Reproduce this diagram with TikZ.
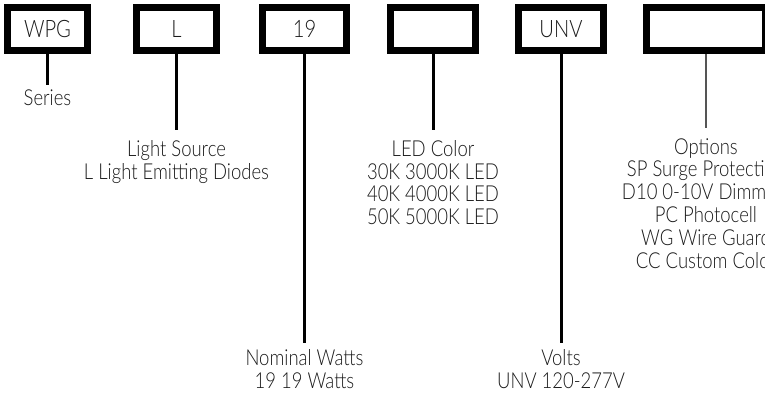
\documentclass[tikz,border=0pt]{standalone}
\usepackage{fontspec}
\setmainfont{Lato}[UprightFont=* Light, FakeStretch=0.84]
\definecolor{txt}{HTML}{1A1A1A}
\definecolor{lightline}{HTML}{555555}
\begin{document}
\begin{tikzpicture}[x=1pt,y=-1pt,
  codebox/.style={draw=black, line width=7pt, inner sep=0pt, text=txt,
    font=\fontsize{24}{26}\selectfont},
  desc/.style={anchor=north, align=center, inner xsep=0pt, inner ysep=5pt, text=txt,
    font=\fontsize{22}{22.8}\selectfont},
  lowgap/.style={inner ysep=10pt},
  conn/.style={draw=black, line width=3pt},
  thinconn/.style={draw=lightline, line width=2pt}]
\useasboundingbox (0,0) rectangle (765,400);
\clip (0,0) rectangle (765,400);
% boxes
\node[codebox, minimum width=80pt, minimum height=43pt] (b1) at (47.5,29) {WPG};
\node[codebox, minimum width=80pt, minimum height=43pt] (b2) at (176.5,29) {L};
\node[codebox, minimum width=84pt, minimum height=43pt] (b3) at (304.5,29) {19};
\node[codebox, minimum width=85pt, minimum height=43pt] (b4) at (433,29) {};
\node[codebox, minimum width=85pt, minimum height=43pt] (b5) at (561,29) {UNV};
\node[codebox, minimum width=119pt, minimum height=43pt] (b6) at (706,29) {};
% descriptions
\node[desc] (t1) at (47.5,85) {Series};
\node[desc, lowgap] (t2) at (176.5,130) {Light Source\\L Light Emitting Diodes};
\node[desc, inner ysep=6pt] (t3) at (304.5,343) {Nominal Watts\\19 19 Watts};
\node[desc, lowgap] (t4) at (433,130) {LED Color\\30K 3000K LED\\40K 4000K LED\\50K 5000K LED};
\node[desc, inner ysep=6pt] (t5) at (561,343) {Volts\\UNV 120-277V};
\node[desc, lowgap] (t6) at (706,128) {Options\\SP Surge Protection\\D10 0-10V Dimming\\PC Photocell\\WG Wire Guard\\CC Custom Color};
% connectors
\draw[conn] (b1.south) -- (t1.north);
\draw[conn] (b2.south) -- (t2.north);
\draw[conn] (b3.south) -- (t3.north);
\draw[conn] (b4.south) -- (t4.north);
\draw[conn] (b5.south) -- (t5.north);
\draw[thinconn] (b6.south) -- (t6.north);
\end{tikzpicture}
\end{document}
